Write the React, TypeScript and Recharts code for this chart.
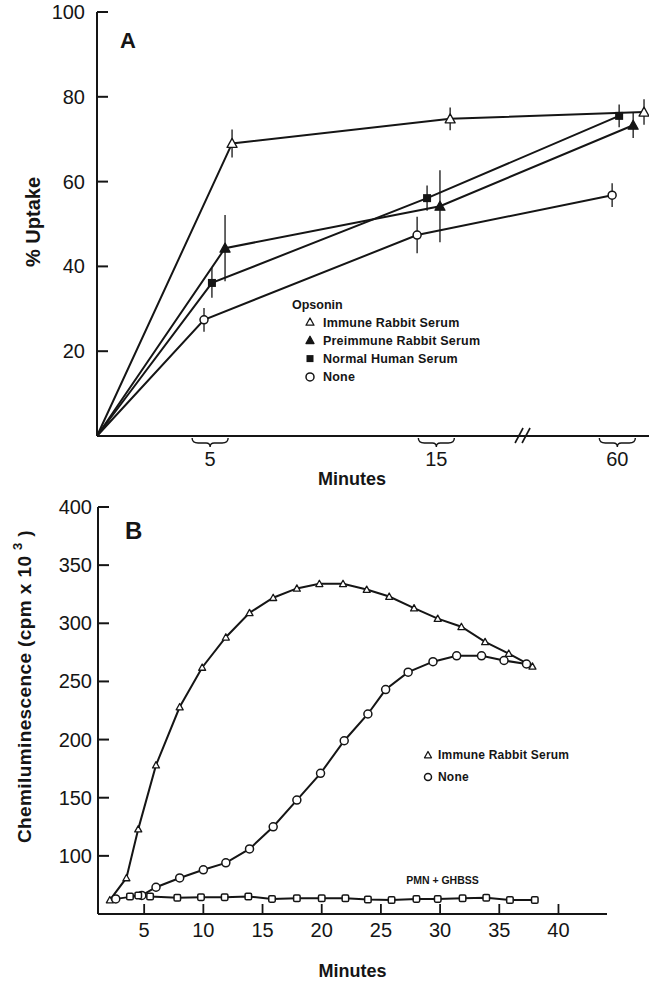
import React from 'react';
import { LineChart, Line, XAxis, YAxis, ErrorBar, Legend, ReferenceDot } from 'recharts';

const FONT = '"Liberation Sans", Arial, Helvetica, sans-serif';
const INK = '#151515';

// ---- Panel A: % uptake, axis broken between 15 and 60 min ----
// x values are places on the drawn axis: 5, 15 and 60 min sit at 5, 15 and 23,
// and each opsonin is offset a little inside its brace as in the figure
const A_TICK_POS = [5, 15, 23];
const A_TICK_LABELS = ['5', '15', '60'];
const A_BREAK_POS = 18.7;
const A_Y_TICKS = [20, 40, 60, 80, 100];

const IMMUNE_A_X = [0, 5.97, 15.61, 24.18];
const IMMUNE_A_Y = [0, 69, 74.8, 76.4];
const IMMUNE_A_ERR = [0, 3.3, 2.7, 3];

const PREIMMUNE_A_X = [0, 5.66, 15.16, 23.7];
const PREIMMUNE_A_Y = [0, 44.3, 54.2, 73.3];
const PREIMMUNE_A_ERR = [0, 7.8, 8.5, 3];

const NHS_A_X = [0, 5.08, 14.59, 23.08];
const NHS_A_Y = [0, 36.1, 56.1, 75.5];
const NHS_A_ERR = [0, 3.5, 3, 2.7];

const NONE_A_X = [0, 4.73, 14.15, 22.77];
const NONE_A_Y = [0, 27.4, 47.4, 56.8];
const NONE_A_ERR = [0, 2.8, 4.3, 2.8];

// ---- Panel B: chemiluminescence (cpm x 10^3) vs minutes ----
const B_X_TICKS = [5, 10, 15, 20, 25, 30, 35, 40];
const B_Y_TICKS = [100, 150, 200, 250, 300, 350, 400];

const IMMUNE_B_MIN = [2.1, 3.5, 4.5, 6, 8, 9.9, 11.9, 13.9, 15.9, 17.9, 19.8, 21.8, 23.8, 25.7, 27.8, 29.8, 31.8, 33.8, 35.8, 37.8];
const IMMUNE_B_CL = [62, 81, 123, 178, 228, 262, 288, 309, 322, 330, 334, 334, 329, 323, 313, 304, 297, 284, 274, 263];

const NONE_B_MIN = [2.6, 4.8, 6, 8, 10, 11.9, 13.9, 15.9, 17.9, 19.9, 21.9, 23.9, 25.4, 27.3, 29.4, 31.4, 33.5, 35.4, 37.3];
const NONE_B_CL = [63, 66, 73, 81, 88, 94, 106, 125, 148, 171, 199, 222, 243, 258, 267, 272, 272, 268, 265];

const PMN_B_MIN = [3.8, 4.5, 5.5, 7.8, 9.8, 11.8, 13.8, 15.8, 17.9, 20, 22, 23.9, 25.9, 28, 29.8, 31.9, 33.9, 35.9, 38];
const PMN_B_CL = [65, 66, 65, 64, 64.5, 64.5, 65, 63, 63.5, 63.5, 63.5, 62.5, 62, 63, 63, 63.5, 64, 62, 62];

const pts = (xs: number[], ys: number[], errs?: number[]) =>
  xs.map((x, i) => ({ x, y: ys[i], err: errs ? errs[i] : 0 }));

type Shape = 'tri' | 'triFill' | 'sq' | 'sqOpen' | 'circ';

const Marker = ({ shape, cx, cy, s }: { shape: Shape; cx: number; cy: number; s: number }) => {
  const h = s / 2;
  if (shape === 'tri' || shape === 'triFill') {
    const p = `${cx},${cy - h} ${cx + h},${cy + h * 0.8} ${cx - h},${cy + h * 0.8}`;
    return <polygon points={p} fill={shape === 'tri' ? '#fff' : INK} stroke={INK} strokeWidth={1.3} strokeLinejoin="round" />;
  }
  if (shape === 'sq') return <rect x={cx - h} y={cy - h} width={s} height={s} fill={INK} />;
  if (shape === 'sqOpen')
    return <rect x={cx - h} y={cy - h} width={s} height={s} rx={1.3} fill="#fff" stroke={INK} strokeWidth={1.5} />;
  return <circle cx={cx} cy={cy} r={h} fill="#fff" stroke={INK} strokeWidth={1.5} />;
};

const dotOf = (shape: Shape, s: number, skipOrigin = false) => (p: any) => {
  const key = `dot-${p.index}`;
  if (p.cx == null || p.cy == null || (skipOrigin && p.index === 0)) return <g key={key} />;
  return <Marker key={key} shape={shape} cx={p.cx} cy={p.cy} s={s} />;
};

const SERIES_A: { name: string; shape: Shape; size: number; data: any[] }[] = [
  { name: 'Immune Rabbit Serum', shape: 'tri', size: 10, data: pts(IMMUNE_A_X, IMMUNE_A_Y, IMMUNE_A_ERR) },
  { name: 'Preimmune Rabbit Serum', shape: 'triFill', size: 10, data: pts(PREIMMUNE_A_X, PREIMMUNE_A_Y, PREIMMUNE_A_ERR) },
  { name: 'Normal Human Serum', shape: 'sq', size: 8, data: pts(NHS_A_X, NHS_A_Y, NHS_A_ERR) },
  { name: 'None', shape: 'circ', size: 8, data: pts(NONE_A_X, NONE_A_Y, NONE_A_ERR) },
];

const SERIES_B: { name: string; shape: Shape; size: number; data: any[] }[] = [
  { name: 'Immune Rabbit Serum', shape: 'tri', size: 7, data: pts(IMMUNE_B_MIN, IMMUNE_B_CL) },
  { name: 'None', shape: 'circ', size: 8, data: pts(NONE_B_MIN, NONE_B_CL) },
  { name: 'PMN + GHBSS', shape: 'sqOpen', size: 6.5, data: pts(PMN_B_MIN, PMN_B_CL) },
];

const textStyle = { fontFamily: FONT, fill: INK };

// ticks point inward in both panels
const yTickIn = (gap: number) => ({ x, y, payload }: any) => (
  <g>
    <line x1={x} x2={x + 11} y1={y} y2={y} stroke={INK} strokeWidth={2} />
    <text x={x - gap} y={y + 7} textAnchor="end" fontSize={20} {...textStyle}>
      {payload.value}
    </text>
  </g>
);

const xTickUp = ({ x, y, payload }: any) => (
  <g>
    <line x1={x} x2={x} y1={y} y2={y - 10} stroke={INK} strokeWidth={1.8} />
    <text x={x} y={y + 23} textAnchor="middle" fontSize={20} {...textStyle}>
      {payload.value}
    </text>
  </g>
);

const braceTick = ({ x, y, payload }: any) => {
  if (payload.value === A_BREAK_POS) {
    return (
      <g stroke={INK} strokeWidth={1.6}>
        <line x1={x - 5} y1={y + 7} x2={x + 3} y2={y - 8} />
        <line x1={x + 2} y1={y + 7} x2={x + 10} y2={y - 8} />
      </g>
    );
  }
  const i = A_TICK_POS.indexOf(payload.value);
  const w = 18;
  const d = `M${x - w},${y + 2} Q${x - w},${y + 7} ${x - w + 6},${y + 7} L${x - 4},${y + 7} Q${x},${y + 7} ${x},${y + 11} Q${x},${y + 7} ${x + 4},${y + 7} L${x + w - 6},${y + 7} Q${x + w},${y + 7} ${x + w},${y + 2}`;
  return (
    <g>
      <path d={d} fill="none" stroke={INK} strokeWidth={1.4} />
      <text x={x} y={y + 30} textAnchor="middle" fontSize={20} {...textStyle}>
        {A_TICK_LABELS[i]}
      </text>
    </g>
  );
};

const xTitle = (text: string, dx: number, baseline: number) => (props: any) => {
  const vb = props.viewBox || { x: 0, y: 0, width: 0 };
  return (
    <text x={vb.x + vb.width / 2 + dx} y={vb.y + baseline} textAnchor="middle" fontSize={18} fontWeight="bold" {...textStyle}>
      {text}
    </text>
  );
};

const yTitleA = (props: any) => {
  const vb = props.viewBox || { y: 0, height: 0 };
  const cy = vb.y + vb.height / 2 - 2;
  return (
    <text transform={`translate(33,${cy}) rotate(-90)`} textAnchor="middle" dominantBaseline="central" fontSize={20} fontWeight="bold" {...textStyle}>
      % Uptake
    </text>
  );
};

const yTitleB = (props: any) => {
  const vb = props.viewBox || { y: 0, height: 0 };
  const cy = vb.y + vb.height / 2 - 24;
  return (
    <text transform={`translate(24,${cy}) rotate(-90)`} textAnchor="middle" dominantBaseline="central" fontSize={19} fontWeight="bold" letterSpacing={0.4} {...textStyle}>
      Chemiluminescence (cpm x 10 <tspan dy={-7} fontSize={13}>3</tspan>
      <tspan dy={7}> )</tspan>
    </text>
  );
};

const LegendA = () => (
  <svg width={200} height={95} style={{ display: 'block', overflow: 'visible' }}>
    <text x={7} y={16.5} fontSize={12.5} fontWeight="bold" {...textStyle}>
      Opsonin
    </text>
    {SERIES_A.map((s, i) => {
      const cy = 30 + i * 18.3;
      return (
        <g key={s.name}>
          <Marker shape={s.shape} cx={25} cy={cy} s={s.shape === 'sq' ? 7 : 8} />
          <text x={38} y={cy + 4.5} fontSize={12.5} fontWeight="bold" letterSpacing={0.2} {...textStyle}>
            {s.name}
          </text>
        </g>
      );
    })}
  </svg>
);

const LegendB = () => (
  <svg width={200} height={45} style={{ display: 'block', overflow: 'visible' }}>
    {SERIES_B.slice(0, 2).map((s, i) => {
      const cy = 13 + i * 22;
      return (
        <g key={s.name}>
          <Marker shape={s.shape} cx={13} cy={cy} s={7} />
          <text x={23} y={cy + 4.3} fontSize={12} fontWeight="bold" letterSpacing={0.2} {...textStyle}>
            {s.name}
          </text>
        </g>
      );
    })}
  </svg>
);

const axisLine = { stroke: INK, strokeWidth: 2 };

export default function App() {
  return (
    <div style={{ position: 'absolute', left: 0, top: 0, width: 649, height: 983, background: '#fff' }}>
      <div style={{ position: 'absolute', left: 0, top: 0 }}>
        <LineChart width={649} height={490} margin={{ top: 12, right: 0, bottom: 0, left: 0 }}>
          <XAxis
            type="number"
            dataKey="x"
            domain={[0, 24.4]}
            ticks={[5, 15, A_BREAK_POS, 23]}
            interval={0}
            tick={braceTick}
            tickLine={false}
            tickSize={0}
            tickMargin={0}
            axisLine={axisLine}
            height={54}
            label={xTitle('Minutes', -21, 49)}
          />
          <YAxis
            type="number"
            domain={[0, 100]}
            ticks={A_Y_TICKS}
            interval={0}
            tick={yTickIn(12)}
            tickLine={false}
            tickSize={0}
            tickMargin={0}
            axisLine={axisLine}
            width={97}
            label={yTitleA}
          />
          {SERIES_A.map((s) => (
            <Line
              key={s.name}
              name={s.name}
              data={s.data}
              dataKey="y"
              type="linear"
              stroke={INK}
              strokeWidth={2}
              dot={dotOf(s.shape, s.size, true)}
              activeDot={false}
              isAnimationActive={false}
            >
              <ErrorBar dataKey="err" direction="y" width={0} stroke={INK} strokeWidth={1.3} isAnimationActive={false} />
            </Line>
          ))}
          <Legend
            layout="horizontal"
            verticalAlign="middle"
            align="center"
            content={LegendA}
            wrapperStyle={{ left: 285, top: 292, width: 200, height: 95 }}
          />
        </LineChart>
      </div>

      <div style={{ position: 'absolute', left: 0, top: 490 }}>
        <LineChart width={649} height={493} margin={{ top: 17, right: 42, bottom: 0, left: 0 }}>
          <XAxis
            type="number"
            dataKey="x"
            domain={[1.1, 44.1]}
            ticks={B_X_TICKS}
            interval={0}
            tick={xTickUp}
            tickLine={false}
            tickSize={0}
            tickMargin={0}
            axisLine={axisLine}
            height={69}
            label={xTitle('Minutes', 0, 63)}
          />
          <YAxis
            type="number"
            domain={[50, 400]}
            ticks={B_Y_TICKS}
            interval={0}
            tick={yTickIn(6)}
            tickLine={false}
            tickSize={0}
            tickMargin={0}
            axisLine={axisLine}
            width={98}
            label={yTitleB}
          />
          {SERIES_B.map((s) => (
            <Line
              key={s.name}
              name={s.name}
              data={s.data}
              dataKey="y"
              type="linear"
              stroke={INK}
              strokeWidth={2}
              dot={dotOf(s.shape, s.size)}
              activeDot={false}
              isAnimationActive={false}
            />
          ))}
          <ReferenceDot
            x={30.2}
            y={79}
            r={0}
            fill="none"
            stroke="none"
            label={{ value: 'PMN + GHBSS', position: 'center', fontSize: 10.5, fontWeight: 'bold', fill: INK, fontFamily: FONT }}
          />
          <Legend
            layout="horizontal"
            verticalAlign="middle"
            align="center"
            content={LegendB}
            wrapperStyle={{ left: 415, top: 252, width: 200, height: 45 }}
          />
        </LineChart>
      </div>

      <svg width={649} height={983} style={{ position: 'absolute', left: 0, top: 0, pointerEvents: 'none' }}>
        <text x={120} y={48} fontSize={22} fontWeight="bold" {...textStyle}>
          A
        </text>
        <text x={125} y={539} fontSize={24} fontWeight="bold" {...textStyle}>
          B
        </text>
      </svg>
    </div>
  );
}
